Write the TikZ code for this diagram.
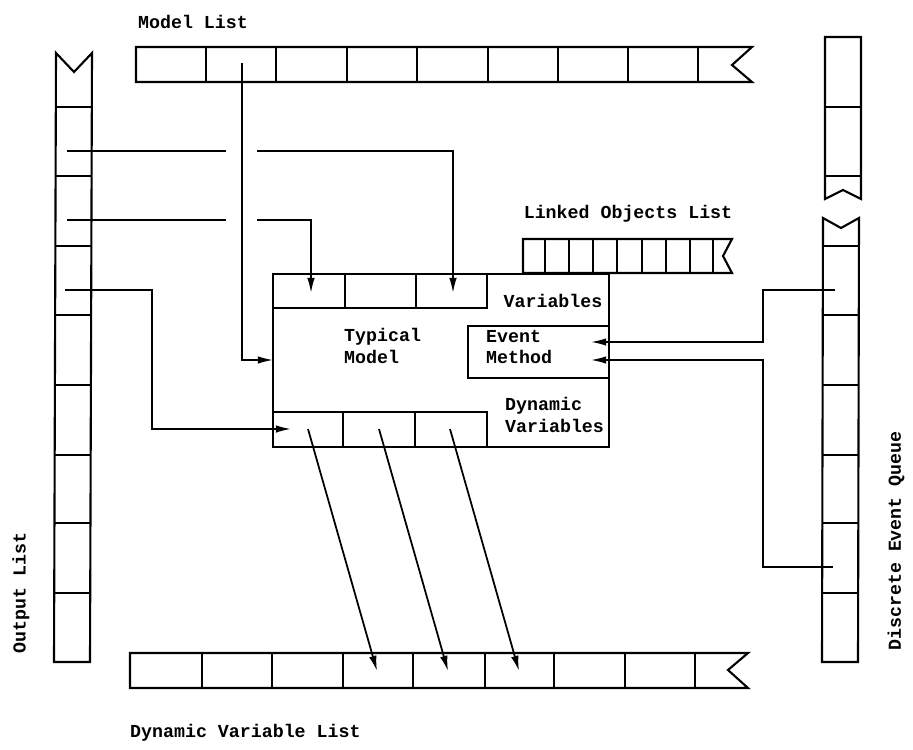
\documentclass[tikz,border=0pt]{standalone}
\usepackage{fontspec}
\setmonofont{Liberation Mono}
\usetikzlibrary{arrows.meta,positioning}

\begin{document}
\begin{tikzpicture}[x=0.03cm, y=-0.03cm,
  lst/.style={black, line width=1.8pt, line join=miter},
  conn/.style={black, line width=1.5pt},
  lbl/.style={font=\fontsize{15.6}{18.7}\selectfont\ttfamily\bfseries, inner sep=0pt},
  >={Latex[length=13pt,width=6.5pt]}]
 \useasboundingbox (0,0) rectangle (913,750);
 % model list (top)
 \draw[lst] (136,47) -- (752,47) -- (732,65) -- (752,82) -- (136,82) -- cycle;
 \draw[lst] (206,47) -- (206,82) (276,47) -- (276,82) (347,47) -- (347,82) (417,47) -- (417,82)
  (488,47) -- (488,82) (558,47) -- (558,82) (628,47) -- (628,82) (698,47) -- (698,82);
 \node[lbl] (mlist) at (193,22) {Model List};
 % dynamic variable list (bottom)
 \draw[lst] (130,653) -- (748,653) -- (728,670) -- (748,688) -- (130,688) -- cycle;
 \draw[lst] (202,653) -- (202,688) (272,653) -- (272,688) (343,653) -- (343,688) (413,653) -- (413,688)
  (485,653) -- (485,688) (554,653) -- (554,688) (625,653) -- (625,688) (695,653) -- (695,688);
 \node[lbl, anchor=west] (dlist) at (130,733) {Dynamic Variable List};
 % output list (left)
 \draw[lst] (56,53) -- (74,72) -- (92,53) -- (90,662) -- (54,662) -- cycle;
 \draw[lst] (56,107) -- (92,107) (56,176) -- (92,176) (55,246) -- (91,246) (55,315) -- (91,315)
  (55,385) -- (91,385) (55,455) -- (91,455) (54,523) -- (90,523) (54,593) -- (90,593);
 \node[lbl, rotate=90] (olist) at (21,593) {Output List};
 % discrete event queue (right)
 \draw[lst] (825,37) -- (861,37) -- (861,199) -- (843,190) -- (825,199) -- cycle;
 \draw[lst] (825,107) -- (861,107) (825,176) -- (861,176);
 \draw[lst] (823,218) -- (841,228) -- (859,218) -- (858,662) -- (822,662) -- cycle;
 \draw[lst] (823,246) -- (859,246) (823,315) -- (859,315) (822,385) -- (858,385)
  (822,455) -- (858,455) (822,523) -- (858,523) (822,593) -- (858,593);
 \node[lbl, rotate=90] (dqueue) at (896,541) {Discrete Event Queue};
 % linked objects list
 \draw[lst] (523,239) -- (732,239) -- (723,256) -- (732,273) -- (523,273) -- cycle;
 \draw[lst] (545,239) -- (545,273) (569,239) -- (569,273) (593,239) -- (593,273) (617,239) -- (617,273)
  (642,239) -- (642,273) (666,239) -- (666,273) (690,239) -- (690,273) (713,239) -- (713,273);
 \node[lbl] (llist) at (628,214) {Linked Objects List};
 % typical model
 \draw[lst] (273,274) rectangle (609,447);
 \draw[lst] (273,308) -- (487,308) -- (487,274) (345,274) -- (345,308) (416,274) -- (416,308);
 \draw[lst] (273,412) -- (487,412) -- (487,447) (343,412) -- (343,447) (415,412) -- (415,447);
 \draw[lst] (609,326) -- (468,326) -- (468,378) -- (609,378);
 \node[lbl] (vars) at (553,301) {Variables};
 \node[lbl, align=left, anchor=west] (tmodel) at (344,346) {Typical\\Model};
 \node[lbl, align=left, anchor=west] (evm) at (486,347) {Event\\Method};
 \node[lbl, align=left, anchor=west] (dvars) at (505,415) {Dynamic\\Variables};
 % connectors
 \coordinate (mlc) at (242,63);
 \coordinate (tmin) at (273,360);
 \draw[conn,->] (mlc) |- (tmin);
 \coordinate (oa) at (67,151);
 \coordinate (oal) at (226,151);
 \coordinate (oar) at (257,151);
 \coordinate (vc3) at (453,293);
 \draw[conn] (oa) -- (oal);
 \draw[conn,->] (oar) -| (vc3);
 \coordinate (ob) at (67,220);
 \coordinate (obl) at (226,220);
 \coordinate (obr) at (257,220);
 \coordinate (vc1) at (311,293);
 \draw[conn] (ob) -- (obl);
 \draw[conn,->] (obr) -| (vc1);
 \coordinate (oc) at (65,290);
 \coordinate (ock) at (152,290);
 \coordinate (dc1) at (291,429);
 \draw[conn,->] (oc) -- (ock) |- (dc1);
 \coordinate (qa) at (835,290);
 \coordinate (qak) at (763,290);
 \coordinate (ema) at (591,342);
 \draw[conn,->] (qa) -- (qak) |- (ema);
 \coordinate (qb) at (833,567);
 \coordinate (qbk) at (763,567);
 \coordinate (emb) at (591,360);
 \draw[conn,->] (qb) -- (qbk) |- (emb);
 \coordinate (d1) at (308,429);
 \coordinate (d2) at (379,429);
 \coordinate (d3) at (450,429);
 \coordinate (l4) at (377,671);
 \coordinate (l5) at (448,671);
 \coordinate (l6) at (519,671);
 \draw[conn,->] (d1) -- (l4);
 \draw[conn,->] (d2) -- (l5);
 \draw[conn,->] (d3) -- (l6);
\end{tikzpicture}
\end{document}
